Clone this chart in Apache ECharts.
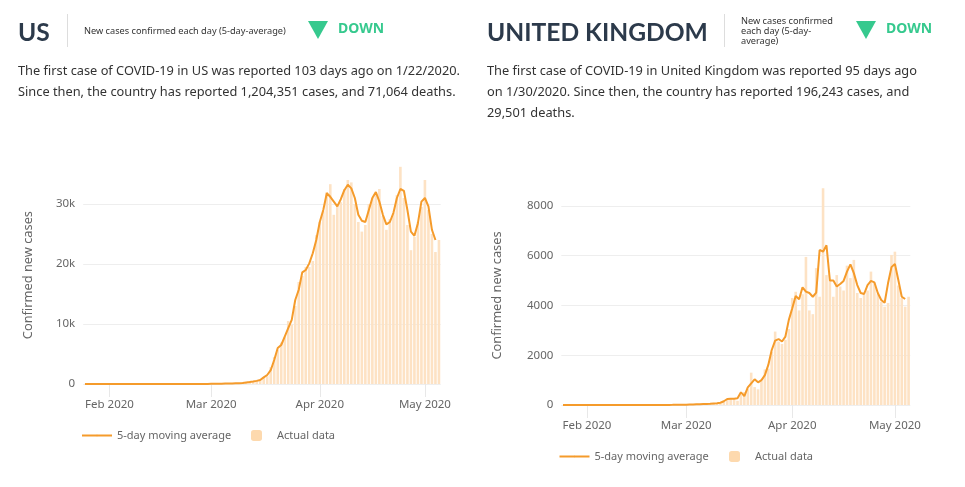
<!DOCTYPE html>
<html>
<head>
<meta charset="utf-8">
<title>COVID-19 new cases</title>
<style>
html, body { margin: 0; padding: 0; background: #fff; }
#chart { width: 965px; height: 487px; }
</style>
<script src="https://cdn.jsdelivr.net/npm/echarts@6/dist/echarts.min.js"></script>
</head>
<body>
<div id="chart"></div>
<script>
// days shown, Jan 25 to May 5 2020
var monthLengths = [[1, 25, 31], [2, 1, 29], [3, 1, 31], [4, 1, 30], [5, 1, 5]];
var days = [];
monthLengths.forEach(function (m) {
    for (var d = m[1]; d <= m[2]; d++) {
        days.push(m[0] + '/' + d);
    }
});
var monthNames = { 2: 'Feb 2020', 3: 'Mar 2020', 4: 'Apr 2020', 5: 'May 2020' };

var usAverage = [
    // Jan 25-31
    10, 10, 10, 10, 10, 10, 10,
    // Feb
    10, 10, 10, 10, 10, 10, 10, 10, 10, 10, 10, 10, 10, 10, 10, 10, 10, 10, 10, 10, 10, 10, 15, 15, 15, 20, 20, 20, 20,
    // Mar
    30, 40, 50, 60, 70, 80, 90, 110, 130, 170, 250, 330, 420, 520, 670, 1100, 1500, 2300, 4000, 6000, 6500, 7900, 9300, 10700, 14000, 15700, 18600, 19000, 20100, 21800, 24000,
    // Apr
    27000, 29000, 31800, 31200, 30400, 29600, 30800, 32300, 33200, 32600, 31000, 28200, 27200, 27000, 29000, 31000, 32000, 30400, 28200, 26600, 27000, 28500, 31000, 32500, 32200, 29000, 25400, 24700, 26800, 30400,
    // May
    31000, 29600, 25700, 24000, null
];

var usActual = [
    2, 0, 1, 0, 0, 0, 1,
    1, 0, 3, 0, 0, 0, 0, 0, 0, 0, 1, 0, 0, 0, 0, 0, 0, 0, 0, 2, 0, 10, 0, 0, 5, 2, 5, 10, 5,
    10, 20, 25, 30, 70, 40, 80, 120, 110, 290, 270, 420, 530, 680, 750, 1100, 1300, 2800, 4500, 5700, 6900, 7800, 10500, 9900, 13000, 17000, 18000, 19500, 19500, 20500, 24800,
    27000, 28800, 32000, 33300, 28200, 29700, 30300, 32500, 34000, 33600, 30000, 27000, 25400, 26500, 30000, 31000, 31500, 32500, 28000, 25700, 27500, 28500, 31500, 36200, 31000, 26500, 22300, 24500, 27000, 29500,
    34000, 29000, 25000, 22000, 24000
];

var ukAverage = [
    0, 0, 0, 0, 0, 1, 1,
    1, 1, 1, 1, 1, 1, 1, 2, 2, 2, 2, 2, 2, 2, 2, 2, 2, 2, 2, 2, 3, 3, 3, 4, 5, 6, 8, 10, 12,
    15, 20, 25, 30, 35, 40, 45, 50, 60, 70, 90, 150, 240, 255, 255, 270, 510, 360, 710, 870, 1030, 910, 1000, 1200, 1610, 2210, 2590, 2650, 2550, 2750, 3420,
    3886, 4380, 4250, 4730, 4555, 4500, 4350, 4515, 6230, 6160, 6420, 5000, 5000, 4760, 4860, 4985, 5360, 5650, 5300, 4820, 4500, 4460, 4820, 4985, 4930, 4500, 4220, 4110, 4900, 5540,
    5670, 5025, 4350, 4260, null
];

var ukActual = [
    0, 0, 0, 0, 0, 2, 0,
    0, 0, 0, 0, 0, 1, 0, 0, 1, 3, 0, 1, 0, 0, 0, 0, 0, 0, 0, 5, 0, 0, 0, 0, 4, 3, 10, 20, 10,
    12, 35, 40, 50, 30, 50, 60, 50, 60, 70, 50, 130, 210, 260, 230, 170, 400, 520, 640, 1300, 720, 630, 970, 1430, 1460, 2130, 2950, 2550, 2450, 2620, 3050,
    4300, 4550, 3800, 4450, 5950, 3800, 3650, 5500, 4350, 8710, 5220, 5000, 4350, 5220, 4760, 4600, 5600, 5100, 5830, 4500, 4300, 4450, 4600, 5360, 4900, 4450, 4150, 3950, 4100, 6030,
    6160, 4800, 4300, 3950, 4350
];

var usTicks = { max: 36300, interval: 10000 };
var ukTicks = { max: 8800, interval: 2000 };

var bodyFont = '"Noto Sans", sans-serif';
var grey = '#666';
var orange = '#f59b2b';
var peach = '#fde2c4';
var swatch = '#fdd9ae';
var green = '#36c98e';

function isFirst(index, value) {
    return value.split('/')[1] === '1';
}

function xAxis(i) {
    return {
        type: 'category', gridIndex: i, data: days,
        axisLine: { show: false },
        axisTick: { show: true, interval: isFirst, alignWithLabel: true, length: 13, lineStyle: { color: '#e8e8e8' } },
        axisLabel: {
            interval: isFirst, margin: 15, fontSize: 11.5, color: grey, fontFamily: bodyFont,
            hideOverlap: false,
            formatter: function (v) { return monthNames[v.split('/')[0]]; }
        }
    };
}

function yAxis(i, ticks, fmt) {
    return {
        type: 'value', gridIndex: i, min: 0, max: ticks.max, interval: ticks.interval,
        name: 'Confirmed new cases', nameLocation: 'middle', nameRotate: 90,
        nameGap: i === 0 ? 48 : 57,
        nameTextStyle: { color: grey, fontSize: 12.8, fontFamily: bodyFont },
        axisLine: { show: false }, axisTick: { show: false },
        axisLabel: { color: grey, fontSize: 11.5, margin: 8, fontFamily: bodyFont, showMaxLabel: false, formatter: fmt },
        splitLine: { showMaxLine: false, lineStyle: { color: '#eeeeee' } }
    };
}

function lineSeries(i, values) {
    return {
        name: '5-day moving average', type: 'line', xAxisIndex: i, yAxisIndex: i, data: values,
        symbol: 'none', z: 5, lineStyle: { color: orange, width: 2 }, itemStyle: { color: orange }
    };
}

function barSeries(i, values) {
    return {
        name: 'Actual data', type: 'bar', xAxisIndex: i, yAxisIndex: i, data: values,
        barWidth: 2.6, z: 3, itemStyle: { color: peach }
    };
}

function lineLegend(left, top) {
    return {
        left: left, top: top, data: ['5-day moving average'], itemWidth: 30, itemHeight: 2, itemGap: 0,
        selectedMode: false, padding: 0,
        textStyle: { color: grey, fontSize: 11, fontFamily: bodyFont }
    };
}

function barLegend(left, top) {
    return {
        left: left, top: top, data: ['Actual data'], itemWidth: 11, itemHeight: 11, itemGap: 0,
        selectedMode: false, padding: 0, itemStyle: { color: swatch },
        textStyle: { color: grey, fontSize: 11, fontFamily: bodyFont, padding: [0, 0, 0, 10] }
    };
}

function text(x, y, str, size, color, weight, font) {
    return {
        type: 'text', x: x, y: y,
        style: { text: str, fontSize: size, fill: color, fontWeight: weight || 'normal', fontFamily: font || bodyFont, textVerticalAlign: 'middle' }
    };
}

function divider(x) {
    return { type: 'line', shape: { x1: x, y1: 14, x2: x, y2: 47 }, style: { stroke: '#dddddd', lineWidth: 1 } };
}

function arrow(x) {
    return {
        type: 'polygon',
        shape: { points: [[x, 21], [x + 20, 21], [x + 10, 39]] },
        style: { fill: green }
    };
}

var headFont = 'Lato, sans-serif';
var ink = '#333';
var navy = '#2c3a4b';
var bodySize = 12.8;
var noteSize = 9.2;
var headSize = 24.6;

var myChart = echarts.init(document.getElementById('chart'));
myChart.setOption({
    animation: false,
    grid: [
        { left: 83.2, top: 166.2, width: 357.5, height: 217.8 },
        { left: 561.3, top: 186, width: 349, height: 219 }
    ],
    xAxis: [xAxis(0), xAxis(1)],
    yAxis: [
        yAxis(0, usTicks, function (v) { return v === 0 ? '0' : (v / 1000) + 'k'; }),
        yAxis(1, ukTicks, function (v) { return String(v); })
    ],
    legend: [
        lineLegend(81, 430),
        barLegend(251, 430),
        lineLegend(558.5, 451),
        barLegend(729, 451)
    ],
    series: [
        barSeries(0, usActual), lineSeries(0, usAverage),
        barSeries(1, ukActual), lineSeries(1, ukAverage)
    ],
    graphic: [
        text(18, 33, 'US', headSize, navy, 'bold', headFont),
        divider(67.5),
        text(84, 31, 'New cases confirmed each day (5-day-average)', noteSize, ink),
        arrow(308),
        text(338, 29, 'DOWN', 14, green, 'bold'),
        text(18, 71, 'The first case of COVID-19 in US was reported 103 days ago on 1/22/2020.', bodySize, ink),
        text(18, 92, 'Since then, the country has reported 1,204,351 cases, and 71,064 deaths.', bodySize, ink),

        text(487, 33, 'UNITED KINGDOM', headSize, navy, 'bold', headFont),
        divider(724.5),
        text(741, 21, 'New cases confirmed', noteSize, ink),
        text(741, 31, 'each day (5-day-', noteSize, ink),
        text(741, 41, 'average)', noteSize, ink),
        arrow(856),
        text(886, 29, 'DOWN', 14, green, 'bold'),
        text(487, 71, 'The first case of COVID-19 in United Kingdom was reported 95 days ago', bodySize, ink),
        text(487, 92, 'on 1/30/2020. Since then, the country has reported 196,243 cases, and', bodySize, ink),
        text(487, 113, '29,501 deaths.', bodySize, ink)
    ]
});
</script>
</body>
</html>
